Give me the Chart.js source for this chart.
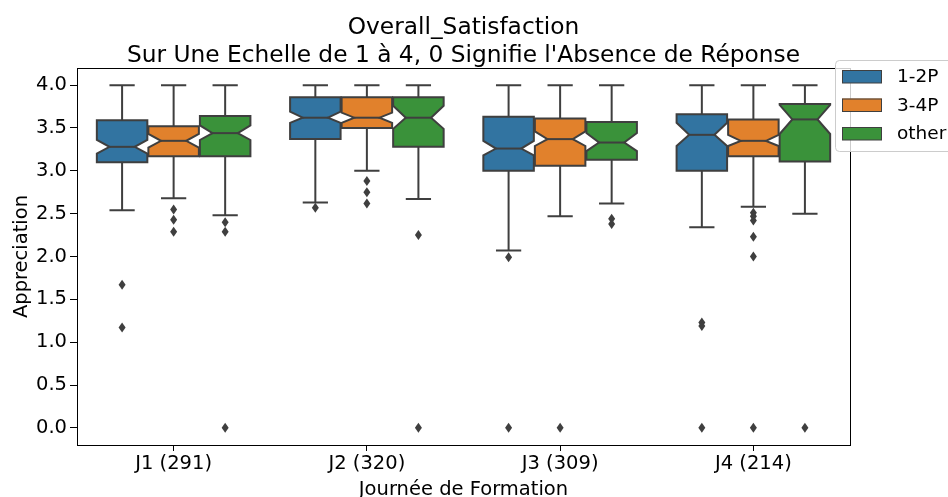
<!DOCTYPE html>
<html>
<head>
<meta charset="utf-8">
<script src="https://cdn.jsdelivr.net/npm/chart.js@4.4.1/dist/chart.umd.min.js"></script>
<style>
  html, body { margin: 0; padding: 0; background: #fff; }
  #wrap { width: 948px; height: 497px; }
</style>
</head>
<body>
<div id="wrap"><canvas id="grafico" width="948" height="497"></canvas></div>
<script>
// ================= DONNÉES =================
const titre = ["Overall_Satisfaction", "Sur Une Echelle de 1 à 4, 0 Signifie l'Absence de Réponse"];
const jours = ["J1 (291)", "J2 (320)", "J3 (309)", "J4 (214)"];
const groupes = ["1-2P", "3-4P", "other"];
const couleurs = ["#3274a1", "#e1812c", "#3a923a"];
const yTicks = [0.0, 0.5, 1.0, 1.5, 2.0, 2.5, 3.0, 3.5, 4.0];

// une ligne par groupe, une colonne par journée
const moustacheBas = [
  [2.54, 2.63, 2.07, 2.34],
  [2.68, 3.00, 2.47, 2.58],
  [2.48, 2.67, 2.62, 2.50]
];
const q1 = [
  [3.10, 3.37, 3.00, 3.00],
  [3.17, 3.50, 3.06, 3.17],
  [3.17, 3.28, 3.13, 3.11]
];
const encocheBas = [
  [3.20, 3.56, 3.18, 3.29],
  [3.27, 3.56, 3.29, 3.29],
  [3.36, 3.49, 3.23, 3.43]
];
const mediane = [
  [3.28, 3.62, 3.26, 3.42],
  [3.35, 3.62, 3.37, 3.35],
  [3.44, 3.62, 3.33, 3.60]
];
const encocheHaut = [
  [3.36, 3.69, 3.35, 3.56],
  [3.43, 3.68, 3.46, 3.42],
  [3.53, 3.76, 3.44, 3.77]
];
const q3 = [
  [3.59, 3.86, 3.63, 3.66],
  [3.52, 3.86, 3.61, 3.60],
  [3.64, 3.86, 3.57, 3.78]
];
const moustacheHaut = [
  [4.0, 4.0, 4.0, 4.0],
  [4.0, 4.0, 4.0, 4.0],
  [4.0, 4.0, 4.0, 4.0]
];
const extremes = [
  [[1.67, 1.17], [2.57], [1.99, 0.0], [1.23, 1.19, 0.0]],
  [[2.55, 2.43, 2.29], [2.88, 2.75, 2.62], [0.0], [2.51, 2.47, 2.42, 2.23, 2.00, 0.0]],
  [[2.40, 2.29, 0.0], [2.25, 0.0], [2.44, 2.38], [0.0]]
];

const FONTE = "'DejaVu Sans', sans-serif";
const BORD = "#3f3f3f";

// ================= BOÎTES À MOUSTACHES =================
const boites = {
  id: "boites",
  afterDatasetsDraw(chart) {
    const ctx = chart.ctx;
    const y = chart.scales.y;
    const py = v => y.getPixelForValue(v);
    ctx.save();
    ctx.strokeStyle = BORD;
    ctx.lineWidth = 2;
    ctx.lineJoin = "miter";

    groupes.forEach((g, gi) => {
      chart.getDatasetMeta(gi).data.forEach((bar, di) => {
        const cx = bar.x, w = bar.width;
        const L = cx - w / 2, R = cx + w / 2;
        const nl = cx - w / 4, nr = cx + w / 4;

        // moustaches + capuchons
        ctx.beginPath();
        ctx.moveTo(cx, py(q1[gi][di])); ctx.lineTo(cx, py(moustacheBas[gi][di]));
        ctx.moveTo(cx, py(q3[gi][di])); ctx.lineTo(cx, py(moustacheHaut[gi][di]));
        ctx.moveTo(nl, py(moustacheBas[gi][di])); ctx.lineTo(nr, py(moustacheBas[gi][di]));
        ctx.moveTo(nl, py(moustacheHaut[gi][di])); ctx.lineTo(nr, py(moustacheHaut[gi][di]));
        ctx.stroke();

        // boîte encochée
        ctx.beginPath();
        ctx.moveTo(L, py(q1[gi][di]));
        ctx.lineTo(R, py(q1[gi][di]));
        ctx.lineTo(R, py(encocheBas[gi][di]));
        ctx.lineTo(nr, py(mediane[gi][di]));
        ctx.lineTo(R, py(encocheHaut[gi][di]));
        ctx.lineTo(R, py(q3[gi][di]));
        ctx.lineTo(L, py(q3[gi][di]));
        ctx.lineTo(L, py(encocheHaut[gi][di]));
        ctx.lineTo(nl, py(mediane[gi][di]));
        ctx.lineTo(L, py(encocheBas[gi][di]));
        ctx.closePath();
        ctx.fillStyle = couleurs[gi];
        ctx.fill();
        ctx.stroke();

        // médiane
        ctx.beginPath();
        ctx.moveTo(nl, py(mediane[gi][di]));
        ctx.lineTo(nr, py(mediane[gi][di]));
        ctx.stroke();

        // valeurs extrêmes (losanges fins)
        ctx.fillStyle = BORD;
        extremes[gi][di].forEach(v => {
          const oy = py(v);
          ctx.beginPath();
          ctx.moveTo(cx, oy - 5);
          ctx.lineTo(cx + 3.5, oy);
          ctx.lineTo(cx, oy + 5);
          ctx.lineTo(cx - 3.5, oy);
          ctx.closePath();
          ctx.fill();
        });
      });
    });
    ctx.restore();
  },
  afterDraw(chart) {
    const ctx = chart.ctx;
    const a = chart.chartArea;
    ctx.save();
    // cadre complet
    ctx.strokeStyle = "#000";
    ctx.lineWidth = 1;
    ctx.strokeRect(Math.round(a.left) + 0.5, Math.round(a.top) + 0.5,
      Math.round(a.right - a.left), Math.round(a.bottom - a.top));

    // titre centré sur la zone de tracé
    ctx.fillStyle = "#000";
    ctx.font = "23.3px " + FONTE;
    ctx.textAlign = "center";
    ctx.textBaseline = "alphabetic";
    const mx = (a.left + a.right) / 2;
    ctx.fillText(titre[0], mx, 33.5);
    ctx.fillText(titre[1], mx, 61.8);

    // légende
    const lx = a.right - 15, ly = a.top - 8;
    ctx.textAlign = "left";
    ctx.beginPath();
    ctx.roundRect(lx + 0.5, ly + 0.5, 130, 91, 4);
    ctx.fillStyle = "rgba(255,255,255,0.8)";
    ctx.fill();
    ctx.strokeStyle = "#cccccc";
    ctx.stroke();
    ctx.font = "18.5px " + FONTE;
    ctx.textBaseline = "middle";
    groupes.forEach((g, i) => {
      const ty = ly + 16.5 + i * 28.5;
      ctx.fillStyle = couleurs[i];
      ctx.fillRect(lx + 7, ty - 6.5, 40, 13);
      ctx.strokeStyle = BORD;
      ctx.lineWidth = 1;
      ctx.strokeRect(lx + 7.5, ty - 6, 39, 12.5);
      ctx.fillStyle = "#000";
      ctx.fillText(g, lx + 62, ty + 1);
    });
    ctx.restore();
  }
};

// ================= GRAPHIQUE =================
const ctx = document.getElementById("grafico").getContext("2d");

new Chart(ctx, {
  type: "bar",
  data: {
    labels: jours,
    datasets: groupes.map((g, gi) => ({
      label: g,
      data: jours.map((j, di) => [q1[gi][di], q3[gi][di]]),
      backgroundColor: "rgba(0,0,0,0)",
      borderWidth: 0,
      categoryPercentage: 0.8,
      barPercentage: 0.98
    }))
  },
  options: {
    responsive: false,
    animation: false,
    devicePixelRatio: 1,
    layout: { padding: { left: 0, right: 98, top: 68, bottom: 0 } },
    plugins: {
      legend: { display: false },
      tooltip: { enabled: false },
      title: { display: false }
    },
    scales: {
      x: {
        grid: { offset: false, drawOnChartArea: false, drawTicks: true, tickLength: 6, tickColor: "#000" },
        border: { display: false },
        ticks: { color: "#000", font: { family: FONTE, size: 19.5 }, padding: 1, maxRotation: 0 },
        title: {
          display: true, text: "Journée de Formation", color: "#000",
          font: { family: FONTE, size: 19.5, lineHeight: 1 }, padding: { top: 0, bottom: -3 }
        },
        afterFit: s => { s.height = 52; }
      },
      y: {
        min: -0.2,
        max: 4.2,
        afterBuildTicks: s => { s.ticks = yTicks.map(v => ({ value: v })); },
        grid: { drawOnChartArea: false, drawTicks: true, tickLength: 7, tickColor: "#000" },
        border: { display: false },
        ticks: { color: "#000", font: { family: FONTE, size: 19.5 }, padding: 3, callback: v => v.toFixed(1) },
        title: {
          display: true, text: "Appreciation", color: "#000",
          font: { family: FONTE, size: 19.5, lineHeight: 1 }, padding: { top: 12, bottom: 0 }
        },
        afterFit: s => { s.width = 77; }
      }
    }
  },
  plugins: [boites]
});
</script>
</body>
</html>
